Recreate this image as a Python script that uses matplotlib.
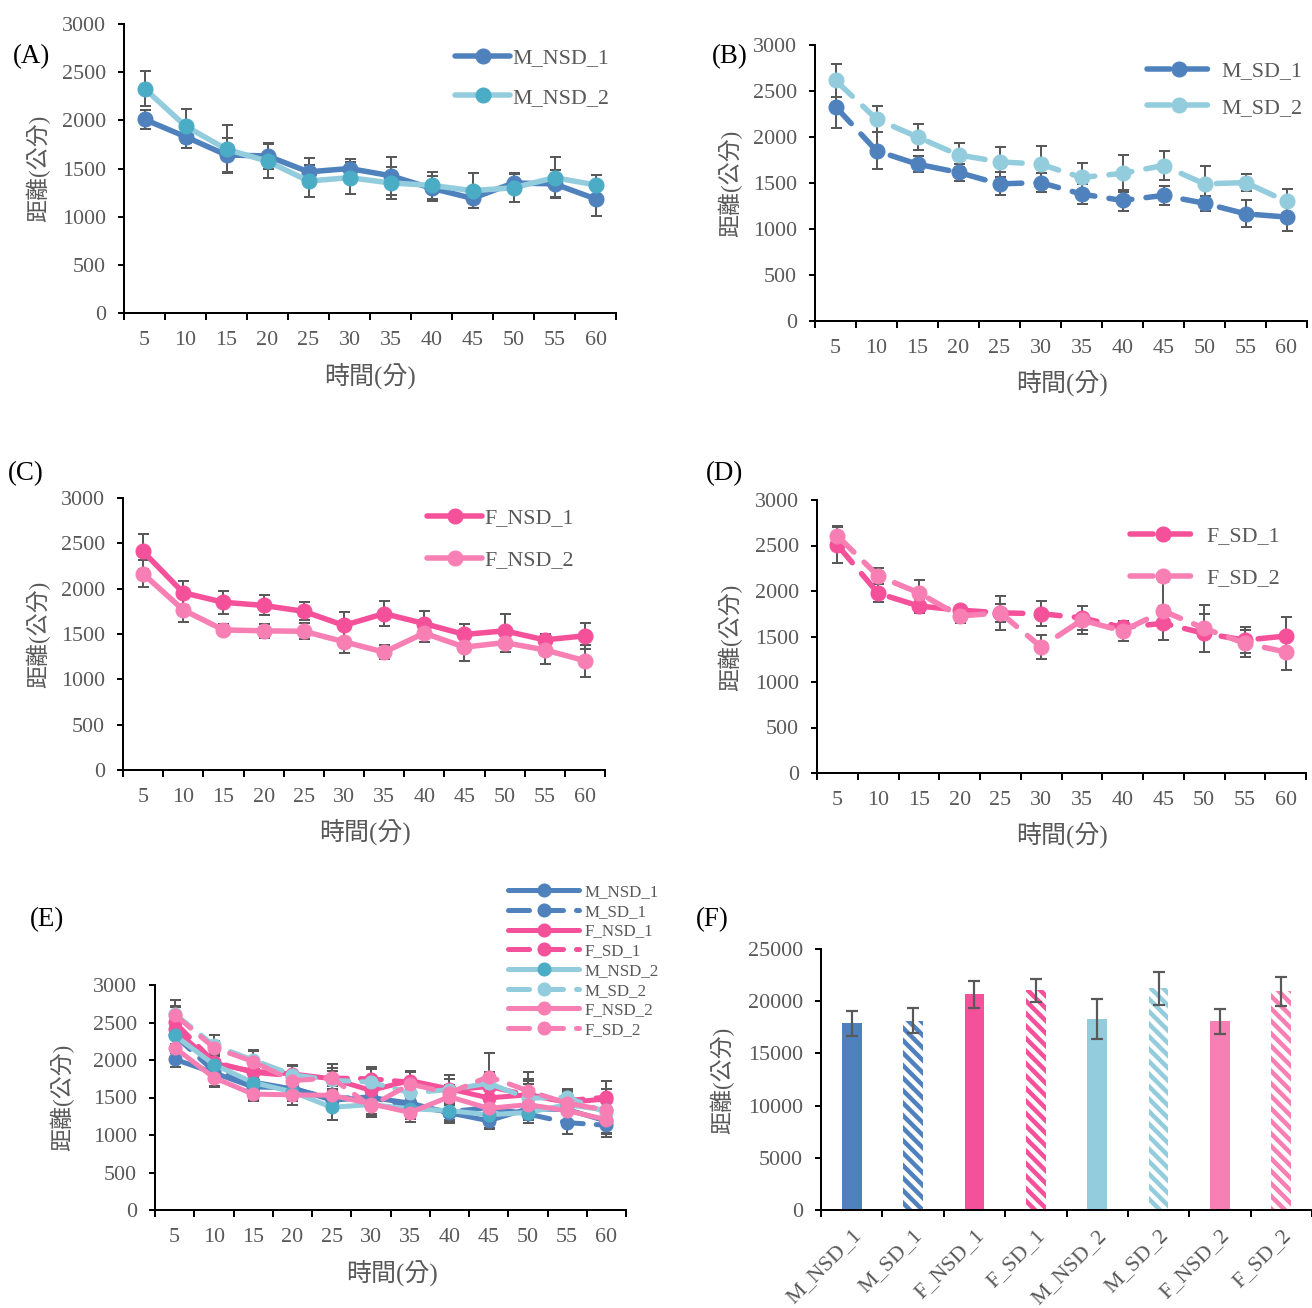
import numpy as np
import matplotlib.pyplot as plt

# figure is laid out in pixels
DPI = 75
W, H = 1312, 1308


def P(px):
    # pixels -> points
    return px * 72.0 / DPI


plt.rcParams['font.family'] = ['Liberation Serif', 'Noto Sans CJK TC']
plt.rcParams['hatch.linewidth'] = P(4.5)

# Data
times = ['5', '10', '15', '20', '25', '30', '35', '40', '45', '50', '55', '60']

m_nsd_1 = [2010, 1830, 1640, 1630, 1465, 1500, 1425, 1295, 1190, 1350, 1340, 1185]
m_nsd_1_err = [100, 120, 180, 130, 140, 100, 195, 130, 105, 100, 140, 175]
m_nsd_2 = [2330, 1940, 1700, 1575, 1370, 1405, 1350, 1325, 1270, 1300, 1405, 1330]
m_nsd_2_err = [180, 180, 250, 175, 170, 165, 170, 140, 180, 145, 210, 100]

m_sd_1 = [2330, 1850, 1705, 1615, 1490, 1505, 1380, 1310, 1365, 1280, 1165, 1130]
m_sd_1_err = [230, 200, 90, 90, 125, 100, 110, 110, 100, 80, 145, 155]
m_sd_2 = [2615, 2195, 2000, 1805, 1730, 1705, 1560, 1605, 1690, 1490, 1505, 1300]
m_sd_2_err = [180, 140, 140, 130, 160, 200, 160, 200, 155, 190, 95, 140]

f_nsd_1 = [2410, 1955, 1850, 1815, 1750, 1595, 1725, 1615, 1495, 1535, 1435, 1480]
f_nsd_1_err = [190, 135, 125, 110, 100, 145, 135, 135, 115, 185, 60, 140]
f_nsd_2 = [2165, 1765, 1545, 1535, 1530, 1415, 1300, 1510, 1355, 1405, 1325, 1205]
f_nsd_2_err = [150, 130, 60, 80, 90, 130, 80, 100, 150, 100, 155, 175]

f_sd_1 = [2505, 1975, 1835, 1790, 1760, 1750, 1705, 1600, 1645, 1535, 1460, 1505]
f_sd_1_err = [200, 100, 75, 45, 100, 135, 130, 60, 185, 210, 140, 210]
f_sd_2 = [2605, 2165, 1980, 1725, 1760, 1385, 1680, 1560, 1780, 1590, 1425, 1330]
f_sd_2_err = [110, 90, 140, 75, 190, 135, 155, 110, 320, 255, 145, 195]

groups = ['M_NSD_1', 'M_SD_1', 'F_NSD_1', 'F_SD_1',
          'M_NSD_2', 'M_SD_2', 'F_NSD_2', 'F_SD_2']
totals = [17870, 18150, 20660, 21030, 18310, 21220, 18080, 20950]
totals_err = [1200, 1230, 1310, 1130, 1900, 1550, 1210, 1400]

# Colours
BLUE = '#4F81BD'
LBLUE = '#93CDDD'
TEAL = '#4BACC6'
PINK = '#F5509A'
LPINK = '#F77FB4'
GREY = '#595959'
ERR = '#595959'

# name: (values, err, line colour, marker colour, dashed)
series = {
    'M_NSD_1': (m_nsd_1, m_nsd_1_err, BLUE, BLUE, False),
    'M_SD_1': (m_sd_1, m_sd_1_err, BLUE, BLUE, True),
    'F_NSD_1': (f_nsd_1, f_nsd_1_err, PINK, PINK, False),
    'F_SD_1': (f_sd_1, f_sd_1_err, PINK, PINK, True),
    'M_NSD_2': (m_nsd_2, m_nsd_2_err, LBLUE, TEAL, False),
    'M_SD_2': (m_sd_2, m_sd_2_err, LBLUE, LBLUE, True),
    'F_NSD_2': (f_nsd_2, f_nsd_2_err, LPINK, LPINK, False),
    'F_SD_2': (f_sd_2, f_sd_2_err, LPINK, LPINK, True),
}

fig = plt.figure(figsize=(W / DPI, H / DPI), dpi=DPI)


def add_axes(l, t, r, b):
    return fig.add_axes([l / W, 1 - b / H, (r - l) / W, (b - t) / H])


def style_axes(ax, n):
    for s in ['top', 'right']:
        ax.spines[s].set_visible(False)
    for s in ['left', 'bottom']:
        ax.spines[s].set_linewidth(P(2))
        ax.spines[s].set_color('black')
    ax.set_xlim(-0.5, n - 0.5)
    ax.set_xticks(np.arange(-0.5, n, 1), minor=True)
    ax.tick_params(axis='x', which='major', length=0, pad=P(18),
                   labelsize=P(22), labelcolor=GREY)
    ax.tick_params(axis='x', which='minor', length=P(7), width=P(2),
                   direction='out')
    ax.tick_params(axis='y', length=P(6), width=P(2), pad=P(12),
                   labelsize=P(22), labelcolor=GREY)


def line_panel(box, names, lw=5.5, ms=15, legend=None):
    ax = add_axes(*box)
    x = np.arange(len(times))
    for name in names:
        vals, err, col, mcol, dashed = series[name]
        ax.errorbar(x, vals, yerr=err, fmt='none', ecolor=ERR,
                    elinewidth=P(2), capsize=P(5.5), capthick=P(2), zorder=2)
        ls = (0, (4.2, 2.6)) if dashed else '-'
        ax.plot(x, vals, color=col, lw=P(lw), ls=ls, dash_capstyle='round',
                solid_capstyle='round', marker='o', ms=P(ms), mfc=mcol,
                mec=mcol, label=name, zorder=3)
    ax.set_ylim(0, 3000)
    ax.set_yticks(range(0, 3001, 500))
    ax.set_xticks(x)
    ax.set_xticklabels(times)
    style_axes(ax, len(times))
    if legend:
        lx, ly, fs, hl, hp, sp = legend
        ax.legend(loc='upper left', bbox_to_anchor=(lx / W, 1 - ly / H),
                  bbox_transform=fig.transFigure, frameon=False,
                  fontsize=P(fs), handlelength=hl, handletextpad=hp,
                  labelspacing=sp, borderpad=0, borderaxespad=0,
                  labelcolor=GREY)
    return ax


def fig_text(x, y, s, size, color=GREY, rot=0):
    fig.text(x / W, 1 - y / H, s, ha='center', va='center',
             fontsize=P(size), color=color, rotation=rot)


# (A)
line_panel((124, 24, 616, 313), ['M_NSD_1', 'M_NSD_2'],
           legend=(455, 48, 22, 2.5, 0.1, 0.88))
# (B)
line_panel((815, 45, 1307, 321), ['M_SD_1', 'M_SD_2'],
           legend=(1147, 61, 22, 2.95, 0.45, 0.74))
# (C)
line_panel((123, 498, 605, 770), ['F_NSD_1', 'F_NSD_2'],
           legend=(427, 508, 22, 2.5, 0.1, 0.98))
# (D)
line_panel((817, 500, 1306, 773), ['F_SD_1', 'F_SD_2'],
           legend=(1130, 526, 22, 3.0, 0.45, 0.98))
# (E)
line_panel((155, 985, 626, 1210), list(series.keys()), lw=5, ms=13,
           legend=(508, 884, 17, 4.2, 0.3, 0.22))

# (F) bar chart of totals
axf = add_axes(821, 949, 1312, 1210)
xb = np.arange(len(groups))
for i, g in enumerate(groups):
    col = series[g][2]
    if 'NSD' in g:
        axf.bar(i, totals[i], width=0.32, color=col, zorder=2)
    else:
        axf.bar(i, totals[i], width=0.32, facecolor='white', edgecolor=col,
                linewidth=0, hatch='\\\\', zorder=2)
axf.errorbar(xb, totals, yerr=totals_err, fmt='none', ecolor=ERR,
             elinewidth=P(2.2), capsize=P(6), capthick=P(2.2), zorder=3)
axf.set_ylim(0, 25000)
axf.set_yticks(range(0, 25001, 5000))
axf.set_xticks(xb)
axf.set_xticklabels(groups, rotation=45, ha='right', rotation_mode='anchor')
style_axes(axf, len(groups))
axf.tick_params(axis='x', which='major', pad=P(16))

# Panel letters
for x, y, s in [(32, 57, '(A)'), (730, 57, '(B)'), (26, 474, '(C)'),
                (725, 474, '(D)'), (47, 920, '(E)'), (712, 920, '(F)')]:
    fig_text(x, y, s, 27, color='black')

# Axis titles
ylab = '距離(公分)'
xlab = '時間(分)'
for x, y in [(38, 168), (730, 183), (38, 634), (730, 637), (62, 1097),
             (722, 1080)]:
    fig_text(x, y, ylab, 23, rot=90)
for x, y in [(370, 376), (1062, 383), (365, 832), (1062, 835), (392, 1273)]:
    fig_text(x, y, xlab, 25)

fig.savefig('out.png', dpi=DPI)
